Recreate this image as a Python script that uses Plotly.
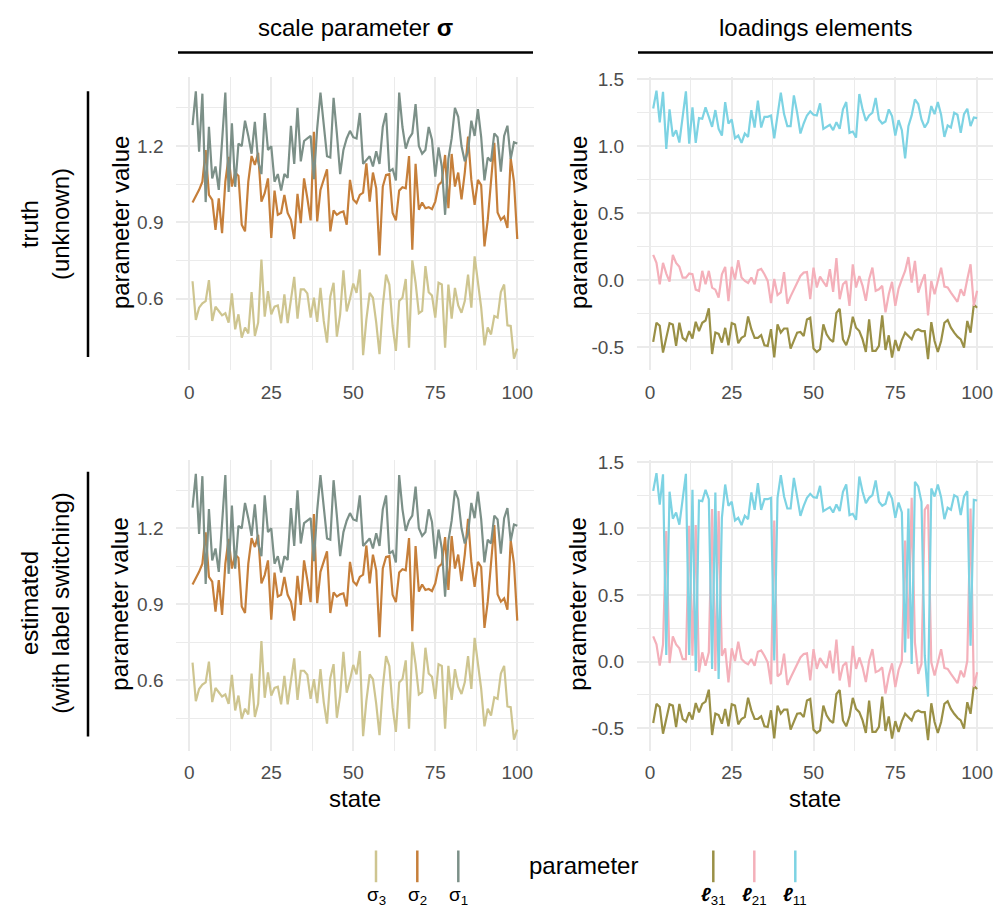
import plotly.graph_objects as go

# ---------------- data ----------------
states = list(range(1, 101))

sigma1 = [1.282, 1.415, 1.178, 1.406, 0.98, 1.276, 1.073, 1.12, 1.028, 1.22,
          1.41, 1.02, 1.29, 1.04, 1.21, 1.20, 1.30, 1.24, 1.17, 1.295,
          1.14, 1.09, 1.33, 1.185, 1.20, 1.06, 1.09, 1.025, 1.09, 1.075,
          1.28, 1.13, 1.35, 1.14, 1.22, 1.23, 1.24, 1.07, 1.27, 1.41,
          1.28, 1.16, 1.155, 1.39, 1.25, 1.09, 1.185, 1.23, 1.26, 1.235,
          1.23, 1.33, 1.13, 1.145, 1.16, 1.12, 1.18, 1.13, 1.275, 1.33,
          1.10, 1.11, 1.065, 1.41, 1.275, 1.19, 1.23, 1.25, 1.365, 1.20,
          1.17, 1.185, 1.275, 1.225, 1.08, 1.195, 1.12, 0.93, 1.15, 1.23,
          1.35, 1.315, 1.20, 1.14, 1.18, 1.30, 1.24, 1.345, 1.235, 1.065,
          1.155, 1.14, 1.25, 1.235, 1.10, 1.24, 1.28, 1.15, 1.215, 1.21]

sigma2 = [0.978, 1.002, 1.028, 1.06, 1.184, 1.008, 0.989, 0.871, 0.995, 0.858,
          1.06, 1.158, 1.041, 1.096, 1.083, 0.891, 0.865, 1.06, 1.161, 1.126,
          1.174, 0.982, 1.015, 1.073, 0.839, 1.025, 0.93, 0.937, 1.008, 0.937,
          0.91, 0.835, 1.012, 0.897, 1.073, 0.995, 0.908, 1.256, 0.904, 1.028,
          1.073, 1.109, 0.865, 0.947, 0.93, 0.939, 0.943, 0.891, 1.067, 0.99,
          0.976, 1.008, 1.017, 1.132, 0.982, 1.096, 1.034, 0.770, 1.041, 1.087,
          1.09, 0.937, 0.908, 1.025, 1.038, 1.034, 1.161, 0.793, 1.13, 0.95,
          0.978, 0.956, 0.96, 0.952, 0.982, 1.047, 1.06, 1.165, 0.956, 1.169,
          1.041, 1.096, 0.991, 1.096, 1.237, 1.067, 0.969, 1.067, 1.047, 0.806,
          0.91, 1.08, 1.213, 0.939, 0.91, 0.923, 0.878, 1.152, 1.06, 0.835]

sigma3 = [0.669, 0.517, 0.565, 0.582, 0.591, 0.673, 0.513, 0.569, 0.552, 0.535,
          0.543, 0.506, 0.621, 0.48, 0.539, 0.447, 0.487, 0.464, 0.626, 0.454,
          0.506, 0.754, 0.53, 0.63, 0.539, 0.569, 0.574, 0.504, 0.617, 0.504,
          0.597, 0.686, 0.522, 0.637, 0.637, 0.621, 0.526, 0.604, 0.509, 0.643,
          0.513, 0.428, 0.608, 0.663, 0.451, 0.539, 0.712, 0.55, 0.60, 0.66,
          0.623, 0.715, 0.378, 0.519, 0.623, 0.604, 0.506, 0.382, 0.571, 0.695,
          0.656, 0.493, 0.395, 0.591, 0.604, 0.678, 0.408, 0.751, 0.663, 0.543,
          0.552, 0.728, 0.626, 0.613, 0.526, 0.663, 0.656, 0.408, 0.656, 0.522,
          0.643, 0.574, 0.545, 0.591, 0.695, 0.565, 0.767, 0.665, 0.565, 0.417,
          0.487, 0.46, 0.532, 0.526, 0.626, 0.656, 0.496, 0.493, 0.365, 0.404]

l11 = [1.282, 1.415, 1.178, 1.406, 0.98, 1.276, 1.073, 1.12, 1.028, 1.20,
       1.41, 1.02, 1.29, 1.025, 1.21, 1.205, 1.29, 1.22, 1.145, 1.27,
       1.13, 1.08, 1.33, 1.17, 1.20, 1.06, 1.08, 1.025, 1.095, 1.07,
       1.27, 1.14, 1.34, 1.14, 1.22, 1.22, 1.23, 1.06, 1.23, 1.40,
       1.24, 1.15, 1.15, 1.38, 1.25, 1.095, 1.17, 1.23, 1.26, 1.235,
       1.23, 1.32, 1.13, 1.145, 1.16, 1.12, 1.18, 1.13, 1.275, 1.33,
       1.10, 1.11, 1.065, 1.39, 1.275, 1.19, 1.23, 1.25, 1.36, 1.20,
       1.17, 1.185, 1.275, 1.225, 1.08, 1.195, 1.12, 0.91, 1.15, 1.23,
       1.35, 1.315, 1.20, 1.14, 1.18, 1.30, 1.24, 1.33, 1.235, 1.07,
       1.155, 1.14, 1.25, 1.235, 1.10, 1.24, 1.28, 1.15, 1.215, 1.21]

l21 = [0.19, 0.13, -0.03, 0.13, 0.05, -0.01, 0.19, 0.13, 0.10, 0.02,
       0.02, 0.05, 0.045, -0.07, -0.08, 0.07, -0.03, 0.07, -0.055, -0.07,
       -0.13, 0.045, 0.10, -0.155, 0.10, 0.005, 0.15, 0.02, -0.005, -0.02,
       0.02, -0.03, 0.075, 0.085, 0.045, -0.005, -0.17, 0.01, -0.11, -0.09,
       0.06, -0.175, -0.12, -0.067, -0.017, 0.032, 0.057, 0.062, -0.141, 0.094,
       -0.054, 0.027, -0.012, -0.047, 0.082, -0.087, 0.166, -0.141, -0.03, -0.005,
       -0.191, 0.119, -0.054, 0.032, -0.042, -0.153, 0.007, 0.094, -0.079, -0.067,
       -0.042, -0.24, -0.104, -0.012, -0.191, -0.062, 0.007, 0.069, 0.173, -0.017,
       0.144, -0.092, -0.017, 0.045, -0.262, -0.005, -0.104, -0.012, 0.094, -0.047,
       -0.054, -0.092, -0.129, -0.161, -0.067, -0.116, 0.007, 0.119, -0.191, -0.079]

l31 = [-0.46, -0.317, -0.34, -0.54, -0.43, -0.32, -0.33, -0.49, -0.317, -0.43,
       -0.45, -0.38, -0.435, -0.31, -0.38, -0.317, -0.30, -0.21, -0.55, -0.39,
       -0.40, -0.465, -0.355, -0.485, -0.32, -0.33, -0.47, -0.43, -0.415, -0.27,
       -0.365, -0.43, -0.43, -0.41, -0.485, -0.49, -0.365, -0.575, -0.33, -0.39,
       -0.36, -0.36, -0.51, -0.453, -0.391, -0.386, -0.416, -0.292, -0.28, -0.51,
       -0.535, -0.515, -0.329, -0.403, -0.441, -0.46, -0.243, -0.213, -0.441, -0.485,
       -0.411, -0.272, -0.354, -0.379, -0.441, -0.535, -0.292, -0.527, -0.527, -0.49,
       -0.262, -0.52, -0.411, -0.577, -0.446, -0.527, -0.446, -0.391, -0.416, -0.441,
       -0.379, -0.366, -0.379, -0.379, -0.589, -0.312, -0.453, -0.535, -0.453, -0.317,
       -0.297, -0.354, -0.391, -0.421, -0.441, -0.502, -0.304, -0.391, -0.181, -0.205]

# states where the estimated l11 / l21 labels are switched
switched_states = [5, 12, 14, 19, 21, 38, 78, 80, 84, 85, 98]

col_titles = ["scale parameter <b>σ</b>", "loadings elements"]
row_titles = ["truth<br>(unknown)", "estimated<br>(with label switching)"]
x_ticks = [0, 25, 50, 75, 100]
sig_ticks = [0.6, 0.9, 1.2]
sig_ticktext = ["0.6", "0.9", "1.2"]
load_ticks = [-0.5, 0.0, 0.5, 1.0, 1.5]
load_ticktext = ["-0.5", "0.0", "0.5", "1.0", "1.5"]

sig_names = ["σ<sub>3</sub>", "σ<sub>2</sub>", "σ<sub>1</sub>"]
load_names = ["<b><i>ℓ</i></b><sub>31</sub>", "<b><i>ℓ</i></b><sub>21</sub>", "<b><i>ℓ</i></b><sub>11</sub>"]

C_S1, C_S2, C_S3 = "#7C9088", "#C67F3A", "#CEC590"
C_L11, C_L21, C_L31 = "#7DD3E3", "#F4B0BA", "#9A9046"

# estimated loadings (label switching)
est11 = [b if s in switched_states else a for s, a, b in zip(states, l11, l21)]
est21 = [a if s in switched_states else b for s, a, b in zip(states, l11, l21)]

# ---------------- figure ----------------
W, H = 995, 907
FONT = "Liberation Sans, Arial, sans-serif"


def fx(x):
    return x / W


def fy(y):
    return 1 - y / H


fig = go.Figure()

panels = {
    "TL": ("x", "y"), "TR": ("x2", "y2"), "BL": ("x3", "y3"), "BR": ("x4", "y4")
}


def add(panel, y, color):
    xa, ya = panels[panel]
    fig.add_trace(go.Scatter(x=states, y=y, mode="lines", xaxis=xa, yaxis=ya,
                             line=dict(color=color, width=2.2), showlegend=False,
                             hoverinfo="skip"))


for p in ["TL", "BL"]:
    add(p, sigma3, C_S3)
    add(p, sigma2, C_S2)
    add(p, sigma1, C_S1)
add("TR", l31, C_L31)
add("TR", l21, C_L21)
add("TR", l11, C_L11)
add("BR", l31, C_L31)
add("BR", est21, C_L21)
add("BR", est11, C_L11)

GRID = "#EBEBEB"
TICKFONT = dict(family=FONT, size=19, color="#4D4D4D")

xdomL = [fx(176.3), fx(533.5)]
xdomR = [fx(637.0), fx(993.3)]
ydomT = [fy(365), fy(70)]
ydomB = [fy(749.3), fy(456)]


def xaxis(dom, anchor):
    return dict(domain=dom, anchor=anchor, range=[-3.95, 104.95],
                tickvals=x_ticks, ticktext=[str(v) for v in x_ticks],
                showgrid=True, gridcolor=GRID, gridwidth=1.8, zeroline=False,
                showline=False, ticks="outside", ticklen=5, tickcolor="rgba(0,0,0,0)",
                tickfont=TICKFONT,
                minor=dict(tickvals=[12.5, 37.5, 62.5, 87.5], showgrid=True,
                           gridcolor=GRID, gridwidth=1, ticks=""))


def yaxis_sig(dom, anchor):
    return dict(domain=dom, anchor=anchor, range=[0.321, 1.47],
                tickvals=sig_ticks, ticktext=sig_ticktext,
                showgrid=True, gridcolor=GRID, gridwidth=1.8, zeroline=False,
                showline=False, ticks="outside", ticklen=8, tickcolor="rgba(0,0,0,0)",
                tickfont=TICKFONT,
                minor=dict(tickvals=[0.45, 0.75, 1.05, 1.35], showgrid=True,
                           gridcolor=GRID, gridwidth=1, ticks=""))


def yaxis_load(dom, anchor):
    return dict(domain=dom, anchor=anchor, range=[-0.668, 1.514],
                tickvals=load_ticks, ticktext=load_ticktext,
                showgrid=True, gridcolor=GRID, gridwidth=1.8, zeroline=False,
                showline=False, ticks="outside", ticklen=8, tickcolor="rgba(0,0,0,0)",
                tickfont=TICKFONT,
                minor=dict(tickvals=[-0.25, 0.25, 0.75, 1.25], showgrid=True,
                           gridcolor=GRID, gridwidth=1, ticks=""))


fig.update_layout(
    width=W, height=H, margin=dict(l=0, r=0, t=0, b=0),
    paper_bgcolor="white", plot_bgcolor="white", showlegend=False,
    font=dict(family=FONT, color="black"),
    xaxis=xaxis(xdomL, "y"), yaxis=yaxis_sig(ydomT, "x"),
    xaxis2=xaxis(xdomR, "y2"), yaxis2=yaxis_load(ydomT, "x2"),
    xaxis3=xaxis(xdomL, "y3"), yaxis3=yaxis_sig(ydomB, "x3"),
    xaxis4=xaxis(xdomR, "y4"), yaxis4=yaxis_load(ydomB, "x4"),
)

ann = []
shapes = []
BIG = dict(family=FONT, size=24, color="black")

# column headers
for cx, txt, (x0, x1) in [(355, col_titles[0], (178, 533)), (815, col_titles[1], (638, 993))]:
    ann.append(dict(x=fx(cx), y=fy(20), xref="paper", yref="paper", text=txt,
                    showarrow=False, font=BIG, xanchor="center", yanchor="middle"))
    shapes.append(dict(type="line", xref="paper", yref="paper", x0=fx(x0), x1=fx(x1),
                       y0=fy(45), y1=fy(45), line=dict(color="black", width=2.5)))

# row strips
for cy, txt, (y0, y1) in [(218, row_titles[0], (84, 352)), (601, row_titles[1], (468, 735))]:
    ann.append(dict(x=fx(45), y=fy(cy), xref="paper", yref="paper", text=txt,
                    showarrow=False, font=BIG, textangle=-90,
                    xanchor="center", yanchor="middle"))
    shapes.append(dict(type="line", xref="paper", yref="paper", x0=fx(88), x1=fx(88),
                       y0=fy(y0), y1=fy(y1), line=dict(color="black", width=2.5)))

# y titles
for cx in (120, 578):
    for cy in (217, 602):
        ann.append(dict(x=fx(cx), y=fy(cy), xref="paper", yref="paper",
                        text="parameter value", showarrow=False, font=BIG,
                        textangle=-90, xanchor="center", yanchor="middle"))

# x titles
for cx in (355, 815):
    ann.append(dict(x=fx(cx), y=fy(798), xref="paper", yref="paper", text="state",
                    showarrow=False, font=BIG, xanchor="center", yanchor="middle"))

# legend
ann.append(dict(x=fx(583), y=fy(865), xref="paper", yref="paper", text="parameter",
                showarrow=False, font=BIG, xanchor="center", yanchor="middle"))
leg_items = [(376, sig_names[0], C_S3), (417.3, sig_names[1], C_S2), (458.3, sig_names[2], C_S1),
             (713.3, load_names[0], C_L31), (754.3, load_names[1], C_L21), (795.3, load_names[2], C_L11)]
for lx, name, col in leg_items:
    shapes.append(dict(type="line", xref="paper", yref="paper", x0=fx(lx), x1=fx(lx),
                       y0=fy(850), y1=fy(882), line=dict(color=col, width=2.5)))
    ann.append(dict(x=fx(lx), y=fy(896), xref="paper", yref="paper", text=name,
                    showarrow=False, font=dict(family=FONT, size=19, color="black"),
                    xanchor="center", yanchor="middle"))

fig.update_layout(annotations=ann, shapes=shapes)
fig.write_html("out.html")
